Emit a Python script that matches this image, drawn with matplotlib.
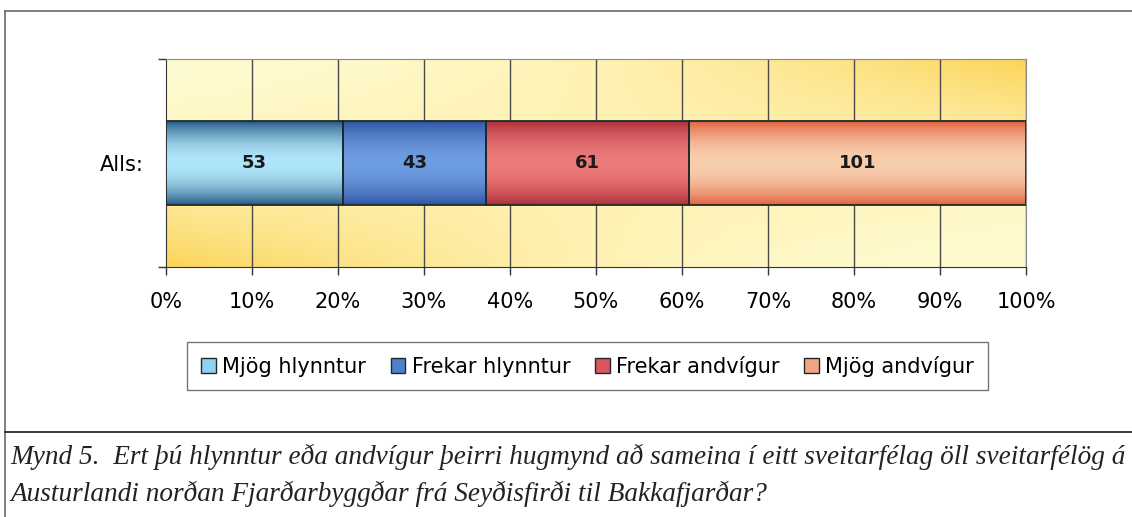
import matplotlib.pyplot as plt
import numpy as np
from matplotlib.patches import Patch
from matplotlib.lines import Line2D

# data
category = "Alls:"
series_names = ["Mjög hlynntur", "Frekar hlynntur", "Frekar andvígur", "Mjög andvígur"]
counts = [53, 43, 61, 101]
x_ticks = [0, 10, 20, 30, 40, 50, 60, 70, 80, 90, 100]
caption_lines = [
    "Mynd 5.  Ert þú hlynntur eða andvígur þeirri hugmynd að sameina í eitt sveitarfélag öll sveitarfélög á",
    "Austurlandi norðan Fjarðarbyggðar frá Seyðisfirði til Bakkafjarðar?",
]

# (edge colour, centre colour) for the tube-like shading of each segment
edge_colors = ["#235582", "#2d52a0", "#ad2d37", "#e35f3c"]
centre_colors = ["#b0e6fa", "#6e9ce0", "#ec7a7a", "#f8cfae"]
legend_colors = ["#8fd3f0", "#4f80cc", "#d9565c", "#f2a582"]

pale = np.array([255, 251, 208]) / 255
gold = np.array([252, 212, 88]) / 255


def hex_rgb(h):
    h = h.lstrip("#")
    return np.array([int(h[i:i + 2], 16) for i in (0, 2, 4)]) / 255


plt.rcParams["font.family"] = ["DejaVu Sans"]

fig = plt.figure(figsize=(11.32, 5.17), dpi=100)
ax = fig.add_axes([166 / 1132, 1 - 267 / 517, 860 / 1132, 208 / 517])

# plot area background: yellow gradient, flipped between top and bottom half
nx, ny = 300, 120
gx = np.linspace(0, 1, nx)
gy = np.linspace(0, 1, ny)[:, None]  # 0 = top
t = gx[None, :] * (1 - gy) + (1 - gx[None, :]) * gy
t = np.clip(t, 0, 1) ** 2.0
bg = pale[None, None, :] + (gold - pale)[None, None, :] * t[:, :, None]
ax.imshow(bg, extent=[0, 100, -0.5, 0.5], aspect="auto", origin="upper", zorder=0)

for x in x_ticks[1:]:
    ax.axvline(x, color="#4a4a4a", lw=1.0, zorder=1)

total = sum(counts)
pct = [c / total * 100 for c in counts]
lefts = np.concatenate([[0], np.cumsum(pct)[:-1]])
bars = ax.barh([0] * len(pct), pct, left=lefts, height=0.4,
               facecolor="none", edgecolor="#1e2a2a", linewidth=1.3, zorder=4)

prof = np.linspace(0, 1, 80)
shade = np.sin(np.pi * prof) ** 0.8
for rect, ec, cc, n in zip(bars.patches, edge_colors, centre_colors, counts):
    e, c = hex_rgb(ec), hex_rgb(cc)
    img = e[None, :] + (c - e)[None, :] * shade[:, None]
    img = np.repeat(img[:, None, :], 2, axis=1)
    x0, y0 = rect.get_x(), rect.get_y()
    ax.imshow(img, extent=[x0, x0 + rect.get_width(), y0, y0 + rect.get_height()],
              aspect="auto", origin="lower", zorder=3)
    ax.text(x0 + rect.get_width() / 2, 0, str(n), ha="center", va="center",
            fontsize=13, fontweight="bold", color="#1a1a1a", zorder=5)

ax.set_xlim(0, 100)
ax.set_ylim(-0.5, 0.5)
ax.set_xticks(x_ticks)
ax.set_xticklabels([f"{v}%" for v in x_ticks], fontsize=15)
ax.tick_params(axis="x", length=6, width=1, color="#333333", pad=12)
ax.set_yticks([0])
ax.set_yticklabels([category], fontsize=15)
ax.tick_params(axis="y", length=0, pad=16)
ax.set_yticks([-0.5, 0.5], minor=True)
ax.tick_params(axis="y", which="minor", length=6, width=1, color="#333333")

ax.spines["top"].set_color("#8a8a8a")
ax.spines["right"].set_color("#8a8a8a")
ax.spines["left"].set_color("#333333")
ax.spines["bottom"].set_color("#333333")

handles = [Patch(facecolor=c, edgecolor="#1e2a2a", linewidth=1.0) for c in legend_colors]
fig.legend(handles, series_names, loc="center", bbox_to_anchor=(0.519, 0.292), ncol=4,
           fontsize=15, frameon=True, fancybox=False, edgecolor="#555555",
           handlelength=0.7, handleheight=0.7, handletextpad=0.3,
           columnspacing=1.2, borderpad=0.65, borderaxespad=0)

# frame lines around the chart and caption
fig.add_artist(Line2D([5 / 1132, 5 / 1132], [0, 1 - 11 / 517], color="#6a6a6a", lw=1.2))
fig.add_artist(Line2D([5 / 1132, 1], [1 - 11 / 517, 1 - 11 / 517], color="#6a6a6a", lw=1.2))
fig.add_artist(Line2D([5 / 1132, 1], [1 - 432 / 517, 1 - 432 / 517], color="#3a3a3a", lw=1.4))

fig.text(10 / 1132, 1 - 464 / 517, caption_lines[0], family="Liberation Serif",
         style="italic", fontsize=19.6, va="baseline", color="#222222")
fig.text(10 / 1132, 1 - 501 / 517, caption_lines[1], family="Liberation Serif",
         style="italic", fontsize=19.6, va="baseline", color="#222222")

fig.savefig("out.png", dpi=100)
